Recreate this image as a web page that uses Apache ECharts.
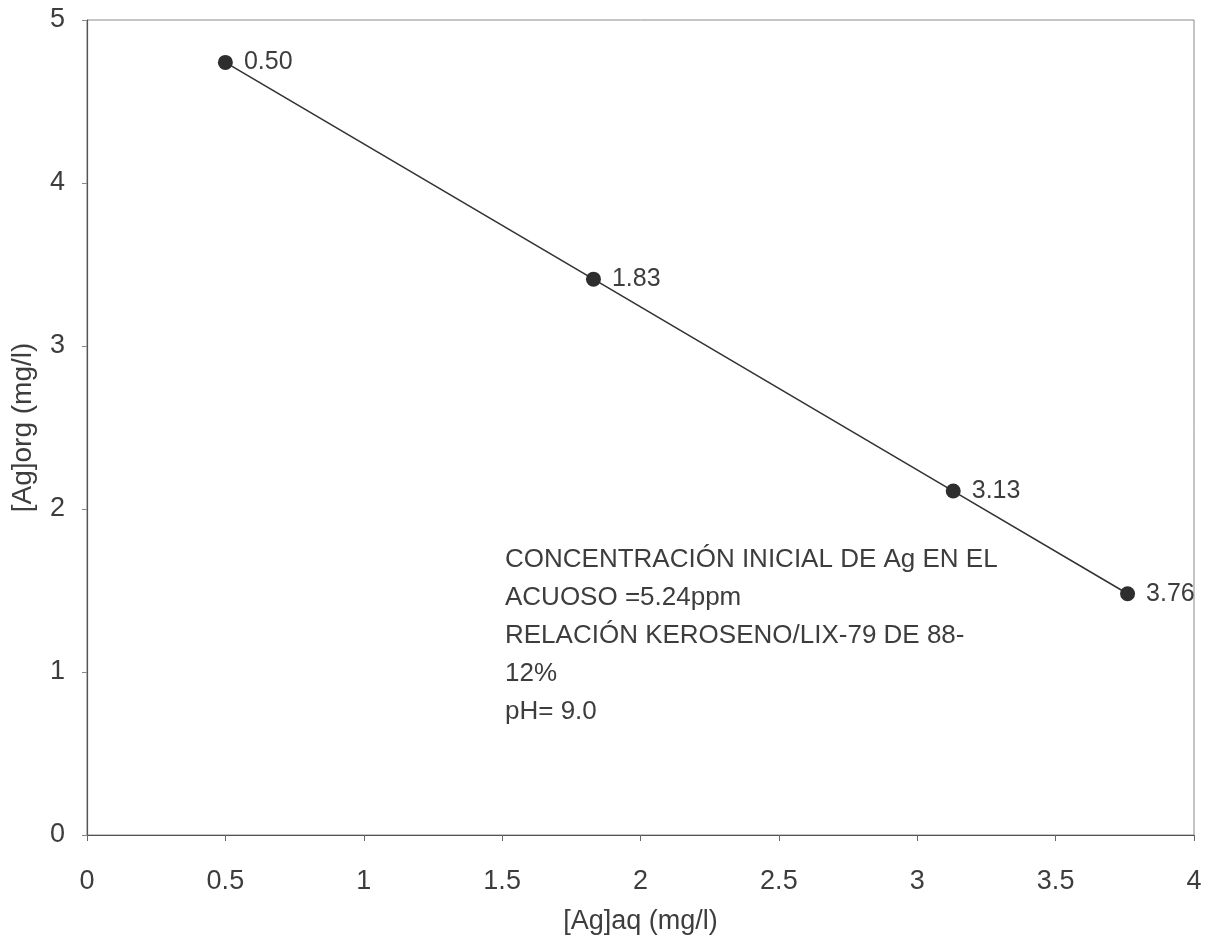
<!DOCTYPE html>
<html>
<head>
<meta charset="utf-8">
<style>
  html, body { margin: 0; padding: 0; background: #fff; }
  #chart { width: 1219px; height: 940px; }
</style>
<script src="https://cdn.jsdelivr.net/npm/echarts@6/dist/echarts.min.js"></script>
</head>
<body>
<div id="chart"></div>
<script>
// Silver distribution between aqueous and organic phases
const agAqueous = [0.50, 1.83, 3.13, 3.76];   // [Ag]aq (mg/l)
const agOrganic = [4.74, 3.41, 2.11, 1.48];   // [Ag]org (mg/l)
const pointLabels = ['0.50', '1.83', '3.13', '3.76'];
const noteLines = [
  'CONCENTRACIÓN INICIAL DE Ag EN EL',
  'ACUOSO =5.24ppm',
  'RELACIÓN KEROSENO/LIX-79 DE 88-',
  '12%',
  'pH= 9.0'
];

const ink = '#3d3d3d';
const font = '"Liberation Sans", Arial, sans-serif';

const chart = echarts.init(document.getElementById('chart'), null, { renderer: 'canvas' });

chart.setOption({
  backgroundColor: '#ffffff',
  animation: false,
  textStyle: { fontFamily: font, color: ink },
  grid: {
    left: 87, right: 25, top: 20, bottom: 105,
    outerBoundsMode: 'none',
    containLabel: false,
    show: true, borderColor: '#8a8a8a', borderWidth: 1
  },
  xAxis: {
    type: 'value',
    min: 0, max: 4, interval: 0.5,
    name: '[Ag]aq (mg/l)',
    nameLocation: 'middle',
    nameGap: 73,
    nameTextStyle: { fontSize: 27, color: ink, fontFamily: font },
    axisLine: { show: true, lineStyle: { color: '#555', width: 1.2 } },
    axisTick: { show: true, inside: false, length: 6, lineStyle: { color: '#666' } },
    axisLabel: { fontSize: 27, color: ink, margin: 33, fontFamily: font },
    splitLine: { show: false }
  },
  yAxis: {
    type: 'value',
    min: 0, max: 5, interval: 1,
    name: '[Ag]org (mg/l)',
    nameLocation: 'middle',
    nameGap: 50,
    nameTextStyle: { fontSize: 28, color: ink, fontFamily: font },
    axisLine: { show: true, lineStyle: { color: '#555', width: 1.2 } },
    axisTick: { show: true, inside: false, length: 5, lineStyle: { color: '#888' } },
    axisLabel: { fontSize: 27, color: ink, margin: 22, fontFamily: font },
    splitLine: { show: false }
  },
  series: [{
    type: 'line',
    data: agAqueous.map((x, i) => [x, agOrganic[i]]),
    symbol: 'circle',
    symbolSize: 15,
    lineStyle: { color: '#333', width: 1.6 },
    itemStyle: { color: '#2e2e2e' },
    label: {
      show: true,
      position: 'right',
      distance: 11,
      fontSize: 25,
      color: ink,
      fontFamily: font,
      formatter: p => pointLabels[p.dataIndex]
    }
  }],
  graphic: [{
    type: 'text',
    left: 505,
    top: 541,
    style: {
      text: noteLines.join('\n'),
      font: '26px ' + font,
      fill: ink,
      lineHeight: 38
    }
  }]
});
</script>
</body>
</html>
